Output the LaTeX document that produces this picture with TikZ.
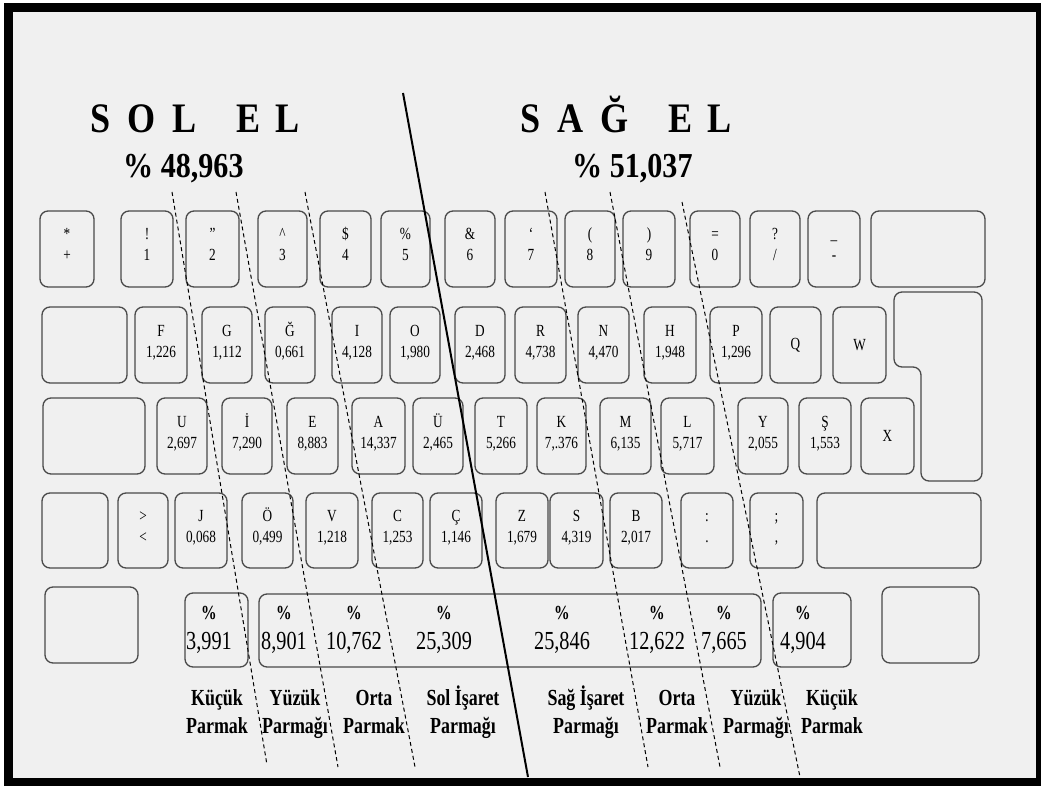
\documentclass[tikz,border=0pt]{standalone}
\usepackage{fontspec}
\setmainfont{Liberation Serif}[FakeStretch=0.78]
\newfontfamily\headfont{Liberation Serif}[FakeStretch=0.86]
\usepackage{tikz}
\usetikzlibrary{positioning}
\usepackage{xcolor}
\definecolor{paper}{HTML}{F0F0F0}
\definecolor{keyline}{HTML}{4A4A4A}

\begin{document}
\begin{tikzpicture}[
  x=1pt, y=-1pt,
  key/.style={draw=keyline, line width=1.3pt, rounded corners=8pt, fill=paper,
              minimum width=50pt, minimum height=76pt, inner sep=0pt, align=center,
              font=\fontsize{17}{21}\selectfont},
  legend/.style={key, text height=30pt, text depth=6pt},
  pct/.style={align=center, inner sep=0pt, font=\fontsize{26}{30}\selectfont},
  finger/.style={align=center, inner sep=0pt, font=\bfseries\fontsize{23}{28}\selectfont,
                 text height=45pt, text depth=6pt},
  title/.style={anchor=base west, inner sep=0pt, font=\headfont\bfseries\fontsize{42}{48}\selectfont},
  share/.style={anchor=base west, inner sep=0pt, font=\headfont\bfseries\fontsize{35}{40}\selectfont},
  fingerline/.style={black, line width=1pt, dash pattern=on 4pt off 3pt},
  handline/.style={black, line width=2pt}
]
  \useasboundingbox (0,0) rectangle (1041,786);

  % Frame
  \fill[white] (0,0) rectangle (1041,786);
  \fill[black] (4,3) rectangle (1041,786);
  \fill[paper] (13,12) rectangle (1036,778);

  % Hands
  \node[title] (solEl) at (90,133) {S\hspace{17pt}O\hspace{17pt}L\hspace{40pt}E\hspace{15pt}L};
  \node[title] (sagEl) at (520,133) {S\hspace{17pt}A\hspace{17pt}Ğ\hspace{40pt}E\hspace{15pt}L};
  \node[share] (solPct) at (123,178) {\% 48,963};
  \node[share] (sagPct) at (572,178) {\% 51,037};

  % Number row
  \node[legend, minimum width=54pt] (kStar) at (67,249) {*\\+};
  \node[legend, minimum width=52pt] (kOne) at (147,249) {!\\1};
  \node[legend, minimum width=53pt] (kTwo) at (212.5,249) {"\\2};
  \node[legend, minimum width=49pt] (kThree) at (282.5,249) {\textasciicircum\\3};
  \node[legend, minimum width=51pt] (kFour) at (345.5,249) {\$\\4};
  \node[legend, minimum width=49pt] (kFive) at (405.5,249) {\%\\5};
  \node[legend] (kSix) at (470,249) {\&\\6};
  \node[legend, minimum width=52pt] (kSeven) at (531,249) {`\\7};
  \node[legend] (kEight) at (590,249) {(\\8};
  \node[legend, minimum width=52pt] (kNine) at (649,249) {)\\9};
  \node[legend] (kZero) at (715,249) {=\\0};
  \node[legend] (kQuest) at (775,249) {?\\/};
  \node[legend, minimum width=52pt] (kMinus) at (834,249) {\_\\-};
  \node[key, minimum width=114pt] (kBack) at (928,249) {};

  % Upper letter row
  \node[key, minimum width=85pt] (kTab) at (84.5,345) {};
  \node[legend, minimum width=52pt] (kF) at (161,345) {F\\1,226};
  \node[legend] (kG) at (227,345) {G\\1,112};
  \node[legend] (kGb) at (290,345) {Ğ\\0,661};
  \node[legend] (kI) at (357,345) {I\\4,128};
  \node[legend] (kO) at (415,345) {O\\1,980};
  \node[legend] (kD) at (480,345) {D\\2,468};
  \node[legend, minimum width=51pt] (kR) at (540.5,345) {R\\4,738};
  \node[legend, minimum width=51pt] (kN) at (603.5,345) {N\\4,470};
  \node[legend, minimum width=52pt] (kH) at (670,345) {H\\1,948};
  \node[legend, minimum width=52pt] (kP) at (736,345) {P\\1,296};
  \node[key, minimum width=51pt] (kQ) at (795.5,345) {Q};
  \node[key, minimum width=53pt] (kW) at (859.5,345) {W};
  \draw[draw=keyline, line width=1.3pt, rounded corners=8pt, fill=paper]
    (894,292) -- (982,292) -- (982,481) -- (921,481) -- (921,367) -- (894,367) -- cycle;

  % Home row
  \node[key, minimum width=102pt] (kCaps) at (94,436) {};
  \node[legend] (kU) at (182,436) {U\\2,697};
  \node[legend] (kIdot) at (247,436) {İ\\7,290};
  \node[legend, minimum width=51pt] (kE) at (312.5,436) {E\\8,883};
  \node[legend, minimum width=53pt] (kA) at (378.5,436) {A\\14,337};
  \node[legend] (kUe) at (438,436) {Ü\\2,465};
  \node[legend, minimum width=52pt] (kT) at (501,436) {T\\5,266};
  \node[legend, minimum width=49pt] (kK) at (561.5,436) {K\\7,.376};
  \node[legend, minimum width=51pt] (kM) at (625.5,436) {M\\6,135};
  \node[legend, minimum width=53pt] (kL) at (687.5,436) {L\\5,717};
  \node[legend] (kY) at (763,436) {Y\\2,055};
  \node[legend, minimum width=52pt] (kSc) at (825,436) {Ş\\1,553};
  \node[key, minimum width=53pt] (kX) at (887.5,436) {X};

  % Lower letter row
  \node[key, minimum width=66pt, minimum height=75pt] (kShiftL) at (75,530.5) {};
  \node[legend, minimum height=75pt] (kLess) at (143,530.5) {>\\<};
  \node[legend, minimum width=52pt, minimum height=75pt] (kJ) at (201,530.5) {J\\0,068};
  \node[legend, minimum width=51pt, minimum height=75pt] (kOe) at (267.5,530.5) {Ö\\0,499};
  \node[legend, minimum width=52pt, minimum height=75pt] (kV) at (332,530.5) {V\\1,218};
  \node[legend, minimum width=51pt, minimum height=75pt] (kC) at (397.5,530.5) {C\\1,253};
  \node[legend, minimum width=52pt, minimum height=75pt] (kCc) at (456,530.5) {Ç\\1,146};
  \node[legend, minimum width=52pt, minimum height=75pt] (kZ) at (522,530.5) {Z\\1,679};
  \node[legend, minimum width=53pt, minimum height=75pt] (kS) at (576.5,530.5) {S\\4,319};
  \node[legend, minimum width=52pt, minimum height=75pt] (kB) at (636,530.5) {B\\2,017};
  \node[legend, minimum width=52pt, minimum height=75pt] (kColon) at (707,530.5) {:\\.};
  \node[legend, minimum width=53pt, minimum height=75pt] (kSemi) at (776.5,530.5) {;\\,};
  \node[key, minimum width=164pt, minimum height=75pt] (kShiftR) at (899,530.5) {};

  % Bottom row
  \node[key, minimum width=93pt] (kCtrlL) at (91.5,625) {};
  \node[key, minimum width=63pt, minimum height=74pt] (kAltL) at (216.5,630) {};
  \node[key, minimum width=502pt, minimum height=73pt] (kSpace) at (510,630.5) {};
  \node[key, minimum width=78pt, minimum height=74pt] (kAltR) at (812,630) {};
  \node[key, minimum width=97pt] (kCtrlR) at (930.5,625) {};

  % Finger shares
  \node[pct] (pPinkyL) at (209,630) {{\bfseries\fontsize{20}{30}\selectfont\%}\\3,991};
  \node[pct] (pRingL) at (284,630) {{\bfseries\fontsize{20}{30}\selectfont\%}\\8,901};
  \node[pct] (pMidL) at (354,630) {{\bfseries\fontsize{20}{30}\selectfont\%}\\10,762};
  \node[pct] (pIndexL) at (444,630) {{\bfseries\fontsize{20}{30}\selectfont\%}\\25,309};
  \node[pct] (pIndexR) at (562,630) {{\bfseries\fontsize{20}{30}\selectfont\%}\\25,846};
  \node[pct] (pMidR) at (657,630) {{\bfseries\fontsize{20}{30}\selectfont\%}\\12,622};
  \node[pct] (pRingR) at (724,630) {{\bfseries\fontsize{20}{30}\selectfont\%}\\7,665};
  \node[pct] (pPinkyR) at (803,630) {{\bfseries\fontsize{20}{30}\selectfont\%}\\4,904};

  % Fingers
  \node[finger] (fPinkyL) at (217,714) {Küçük\\Parmak};
  \node[finger] (fRingL) at (295,714) {Yüzük\\Parmağı};
  \node[finger] (fMidL) at (374,714) {Orta\\Parmak};
  \node[finger] (fIndexL) at (463,714) {Sol İşaret\\Parmağı};
  \node[finger] (fIndexR) at (586,714) {Sağ İşaret\\Parmağı};
  \node[finger] (fMidR) at (677,714) {Orta\\Parmak};
  \node[finger] (fRingR) at (756,714) {Yüzük\\Parmağı};
  \node[finger] (fPinkyR) at (832,714) {Küçük\\Parmak};

  % Finger borders
  \coordinate (b1top) at (172,192);  \coordinate (b1bot) at (267,765);
  \coordinate (b2top) at (236,192);  \coordinate (b2bot) at (338,767);
  \coordinate (b3top) at (305,192);  \coordinate (b3bot) at (415,767);
  \coordinate (b4top) at (545,192);  \coordinate (b4bot) at (648,767);
  \coordinate (b5top) at (610,192);  \coordinate (b5bot) at (720,767);
  \coordinate (b6top) at (682,202);  \coordinate (b6bot) at (800,777);
  \coordinate (midTop) at (403,93);  \coordinate (midBot) at (528,777);
  \foreach \b in {1,...,6}
    \draw[fingerline] (b\b top) -- (b\b bot);
  \draw[handline] (midTop) -- (midBot);
\end{tikzpicture}
\end{document}
